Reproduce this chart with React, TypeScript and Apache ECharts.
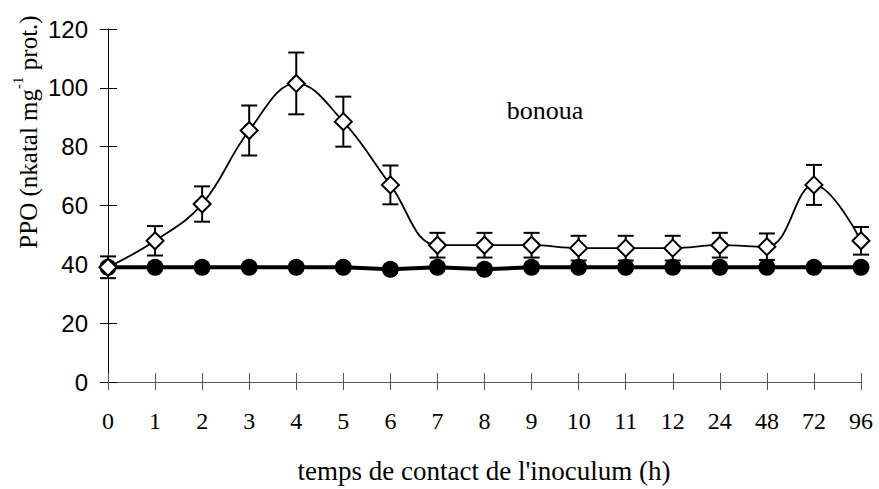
import React, { useEffect, useRef } from "react";
import * as echarts from "echarts";

const hours = ["0", "1", "2", "3", "4", "5", "6", "7", "8", "9", "10", "11", "12", "24", "48", "72", "96"];
const inoculated = [39, 48, 60.5, 85.5, 101.5, 88.5, 67, 46.5, 46.5, 46.5, 45.5, 45.5, 45.5, 46.5, 46, 67, 48];
const inoculatedErr = [3.7, 5, 6, 8.5, 10.5, 8.5, 6.6, 4.2, 4.2, 4.2, 4.2, 4.2, 4.2, 4.2, 4.5, 6.8, 4.7];
const control = [39, 39, 39, 39, 39, 39, 38.3, 39, 38.3, 39, 39, 39, 39, 39, 39, 39, 39];
const yTicks = { min: 0, max: 120, interval: 20 };
const yTitleParts = ["PPO (nkatal mg", "-1", " prot.)"];

const SERIF = "Liberation Serif";
const SANS = "Liberation Sans";

function measure(text: string, size: number): number {
  const c = document.createElement("canvas").getContext("2d");
  if (!c) return text.length * size * 0.45;
  c.font = `${size}px "${SERIF}", serif`;
  return c.measureText(text).width;
}

export default function App() {
  const ref = useRef<HTMLDivElement>(null);
  useEffect(() => {
    document.body.style.margin = "0";
    const chart = echarts.init(ref.current!, null, { renderer: "svg" });
    const errData = inoculated.map((v, i) => [i, v, inoculatedErr[i]]);

    const mainSize = 25;
    const supSize = 15;
    const w1 = measure(yTitleParts[0], mainSize);
    const w2 = measure(yTitleParts[1], supSize);
    const w3 = measure(yTitleParts[2], mainSize);
    const start = -(w1 + w2 + w3) / 2;

    const option: any = {
      animation: false,
      backgroundColor: "#fff",
      grid: { left: 108, right: 18, top: 29, bottom: 107, containLabel: false },
      xAxis: [
        {
          type: "category",
          data: hours,
          boundaryGap: false,
          position: "bottom",
          axisLine: { lineStyle: { color: "#555", width: 1 } },
          axisTick: { show: true, inside: false, length: 8, lineStyle: { color: "#555" } },
          axisLabel: { color: "#000", fontFamily: SERIF, fontSize: 24, margin: 27, interval: 0 },
          splitLine: { show: false },
        },
        {
          type: "category",
          data: hours,
          boundaryGap: false,
          position: "bottom",
          offset: 0,
          axisLine: { show: false },
          axisTick: { show: true, inside: true, length: 9, lineStyle: { color: "#555" } },
          axisLabel: { show: false },
          splitLine: { show: false },
        },
      ],
      yAxis: [
        {
          type: "value",
          min: yTicks.min,
          max: yTicks.max,
          interval: yTicks.interval,
          position: "left",
          offset: 0,
          axisLine: { show: true, lineStyle: { color: "#000", width: 1 } },
          axisTick: { show: true, inside: false, length: 8, lineStyle: { color: "#000" } },
          axisLabel: { color: "#000", fontFamily: SANS, fontSize: 24, margin: 20, align: "right" },
          splitLine: { show: false },
        },
        {
          type: "value",
          min: yTicks.min,
          max: yTicks.max,
          interval: yTicks.interval,
          position: "left",
          offset: 0,
          axisLine: { show: false },
          axisTick: { show: true, inside: true, length: 9, lineStyle: { color: "#000" } },
          axisLabel: { show: false },
          splitLine: { show: false },
        },
      ],
      series: [
        {
          type: "custom",
          name: "err",
          xAxisIndex: 0,
          yAxisIndex: 0,
          z: 2,
          data: errData,
          renderItem: (params: any, api: any) => {
            const x = api.value(0);
            const y = api.value(1);
            const e = api.value(2);
            const top = api.coord([x, y + e]);
            const bot = api.coord([x, y - e]);
            const h = 8;
            const st = { stroke: "#000", lineWidth: 2 };
            return {
              type: "group",
              children: [
                { type: "line", shape: { x1: top[0], y1: top[1], x2: bot[0], y2: bot[1] }, style: st },
                { type: "line", shape: { x1: top[0] - h, y1: top[1], x2: top[0] + h, y2: top[1] }, style: st },
                { type: "line", shape: { x1: bot[0] - h, y1: bot[1], x2: bot[0] + h, y2: bot[1] }, style: st },
              ],
            };
          },
        },
        {
          type: "line",
          name: "control",
          z: 3,
          data: control,
          symbol: "circle",
          symbolSize: 17,
          itemStyle: { color: "#000", borderColor: "#000", borderWidth: 0 },
          lineStyle: { color: "#000", width: 4 },
        },
        {
          type: "line",
          name: "bonoua",
          z: 4,
          data: inoculated,
          smooth: 0.4,
          symbol: "diamond",
          symbolSize: 17,
          itemStyle: { color: "#fff", borderColor: "#000", borderWidth: 2 },
          lineStyle: { color: "#000", width: 1.8 },
        },
      ],
      graphic: [
        {
          type: "text",
          x: 545,
          y: 110,
          style: { text: "bonoua", fontFamily: SERIF, fontSize: 26, fill: "#000", align: "center", verticalAlign: "middle" },
        },
        {
          type: "text",
          x: 484,
          y: 471,
          style: {
            text: "temps de contact de l'inoculum (h)",
            fontFamily: SERIF,
            fontSize: 27,
            fill: "#000",
            align: "center",
            verticalAlign: "middle",
          },
        },
        {
          type: "group",
          x: 28,
          y: 132,
          rotation: Math.PI / 2,
          children: [
            {
              type: "text",
              x: start,
              y: 0,
              style: { text: yTitleParts[0], fontFamily: SERIF, fontSize: mainSize, fill: "#000", align: "left", verticalAlign: "middle" },
            },
            {
              type: "text",
              x: start + w1,
              y: -10,
              style: { text: yTitleParts[1], fontFamily: SERIF, fontSize: supSize, fill: "#000", align: "left", verticalAlign: "middle" },
            },
            {
              type: "text",
              x: start + w1 + w2,
              y: 0,
              style: { text: yTitleParts[2], fontFamily: SERIF, fontSize: mainSize, fill: "#000", align: "left", verticalAlign: "middle" },
            },
          ],
        },
      ],
    };
    chart.setOption(option);
    return () => chart.dispose();
  }, []);
  return <div ref={ref} style={{ width: 879, height: 489 }} />;
}
